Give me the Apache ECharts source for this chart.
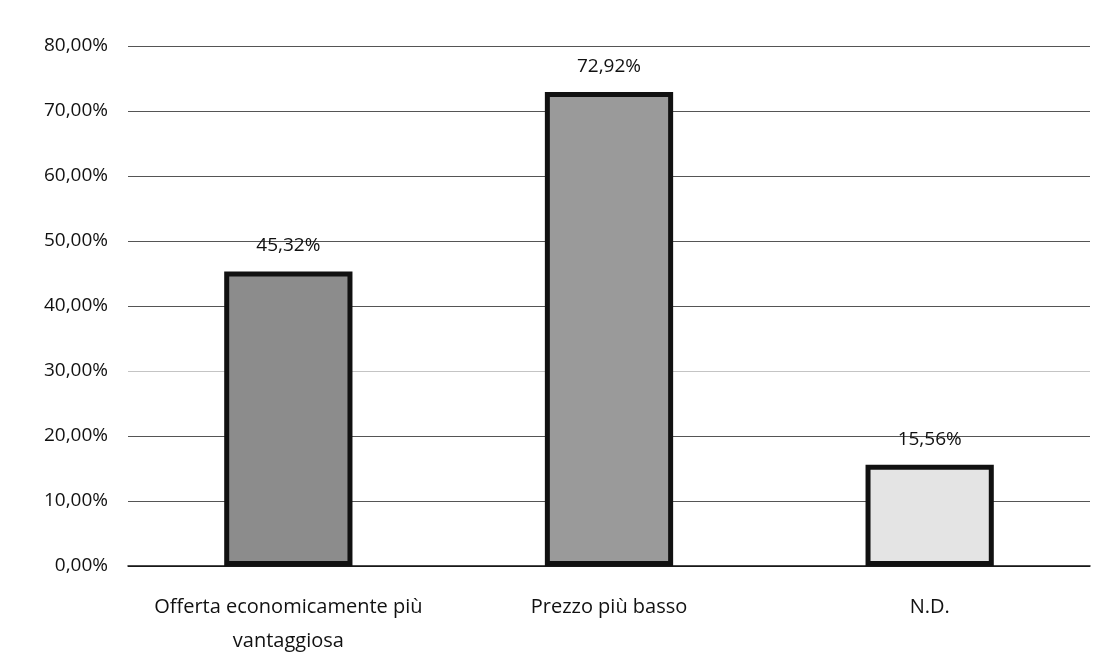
<!DOCTYPE html>
<html>
<head>
<meta charset="utf-8">
<script src="https://cdn.jsdelivr.net/npm/echarts@6/dist/echarts.min.js"></script>
<style>
  html, body { margin: 0; padding: 0; background: #fff; }
  #chart { width: 1106px; height: 666px; }
</style>
</head>
<body>
<div id="chart"></div>
<script>
const categories = ['Offerta economicamente più\nvantaggiosa', 'Prezzo più basso', 'N.D.'];
const values = [45.32, 72.92, 15.56];
const barColors = ['#8c8c8c', '#9a9a9a', '#e4e4e4'];

const fmt = v => v.toFixed(2).replace('.', ',') + '%';

const chart = echarts.init(document.getElementById('chart'));

const option = {
    backgroundColor: '#fff',
    textStyle: { fontFamily: 'Open Sans' },
    grid: { left: 128, right: 16, top: 46, bottom: 100 },
    xAxis: {
        type: 'category',
        data: categories,
        axisTick: { show: false },
        axisLine: { lineStyle: { color: '#111', width: 1.5 } },
        axisLabel: { color: '#111', fontSize: 20, margin: 24, lineHeight: 34, interval: 0, hideOverlap: false }
    },
    yAxis: {
        type: 'value',
        min: 0,
        max: 80,
        interval: 10,
        axisLine: { show: false },
        axisTick: { show: false },
        axisLabel: { color: '#111', fontSize: 19, margin: 20, formatter: v => fmt(v) },
        splitLine: {
            lineStyle: {
                // the 30% gridline is faint in the scan
                color: ['#333', '#555', '#555', '#c4c4c4', '#555', '#555', '#555', '#555', '#555'],
                width: 1
            }
        }
    },
    series: [
        {
            type: 'bar',
            barWidth: '40%',
            data: values.map((v, i) => ({
                value: v,
                itemStyle: { color: barColors[i] }
            })),
            itemStyle: { borderColor: '#111', borderWidth: 5 },
            label: {
                show: true,
                position: 'top',
                distance: 16,
                color: '#111',
                fontSize: 19,
                formatter: p => fmt(p.value)
            }
        }
    ]
};

chart.setOption(option);
</script>
</body>
</html>
